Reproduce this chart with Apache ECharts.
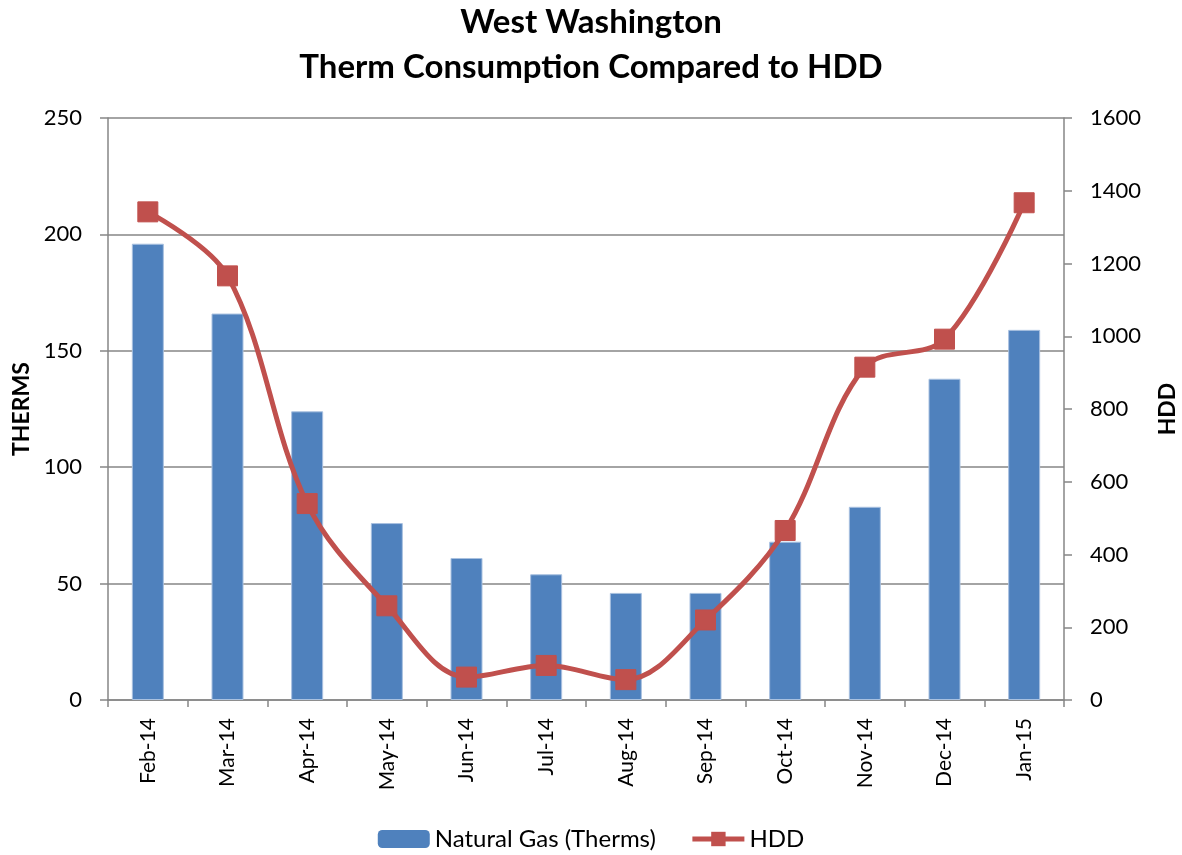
<!DOCTYPE html>
<html>
<head>
<meta charset="utf-8">
<script src="https://cdn.jsdelivr.net/npm/echarts@6/dist/echarts.min.js"></script>
<style>
	html, body { margin: 0; padding: 0; background: #fff; }
	#chart { width: 1182px; height: 855px; }
</style>
</head>
<body>
<div id="chart"></div>
<script>
var months = ['Feb-14', 'Mar-14', 'Apr-14', 'May-14', 'Jun-14', 'Jul-14', 'Aug-14', 'Sep-14', 'Oct-14', 'Nov-14', 'Dec-14', 'Jan-15'];
// therms per month (left axis)
var therms = [196, 166, 124, 76, 61, 54, 46, 46, 68, 83, 138, 159];
// heating degree days (right axis)
var hdd = [1342, 1166, 540, 259, 63, 95, 56, 220, 466, 915, 992, 1367];

var chart = echarts.init(document.getElementById('chart'));
var font = 'Lato';
var gridColor = '#868686';
var barColor = '#4F81BD', lineColor = '#C0504D';

var option = {
	animation: false,
	textStyle: { fontFamily: font },
	title: {
		text: 'West Washington\nTherm Consumption Compared to HDD',
		left: 'center',
		top: -5,
		textStyle: {
			fontFamily: font,
			fontSize: 33,
			fontWeight: 'bold',
			color: '#000',
			lineHeight: 45
		}
	},
	legend: {
		bottom: -1,
		left: 'center',
		itemWidth: 52,
		itemHeight: 18,
		itemGap: 34,
		textStyle: { fontFamily: font, fontSize: 24, color: '#000' },
		data: [
			{ name: 'Natural Gas (Therms)', itemStyle: { borderWidth: 0 } },
			{ name: 'HDD', lineStyle: { width: 5, color: lineColor } }
		]
	},
	grid: {
		left: 108,
		right: 118,
		top: 118,
		bottom: 155,
		outerBoundsMode: 'none'
	},
	xAxis: {
		type: 'category',
		data: months,
		boundaryGap: true,
		axisLine: { lineStyle: { color: gridColor, width: 1.5 } },
		axisTick: { show: true, length: 7, lineStyle: { color: gridColor, width: 1.5 } },
		axisLabel: { rotate: 90, fontSize: 21, color: '#000', margin: 18, fontFamily: font }
	},
	yAxis: [{
		type: 'value',
		min: 0,
		max: 250,
		interval: 50,
		name: 'THERMS',
		nameLocation: 'middle',
		nameGap: 75,
		nameRotate: 90,
		nameTextStyle: { fontSize: 23, fontWeight: 'bold', color: '#000', fontFamily: font },
		axisLine: { show: true, lineStyle: { color: gridColor, width: 1.5 } },
		axisTick: { show: true, length: 8, lineStyle: { color: gridColor, width: 1.5 } },
		axisLabel: { fontSize: 22, color: '#000', margin: 26, fontFamily: font },
		splitLine: { lineStyle: { color: gridColor, width: 1.5 } }
	}, {
		type: 'value',
		min: 0,
		max: 1600,
		interval: 200,
		name: 'HDD',
		nameLocation: 'middle',
		nameGap: 92,
		nameRotate: 90,
		nameTextStyle: { fontSize: 23, fontWeight: 'bold', color: '#000', fontFamily: font },
		axisLine: { show: true, lineStyle: { color: gridColor, width: 1.5 } },
		axisTick: { show: true, length: 8, lineStyle: { color: gridColor, width: 1.5 } },
		axisLabel: {
			fontSize: 22, color: '#000', margin: 26, fontFamily: font,
			formatter: function(v) { return String(v); }
		},
		splitLine: { show: false }
	}],
	series: [{
		name: 'Natural Gas (Therms)',
		type: 'bar',
		yAxisIndex: 0,
		data: therms,
		barWidth: 32,
		itemStyle: { color: barColor, borderColor: '#A9C1E0', borderWidth: 1 }
	}, {
		name: 'HDD',
		type: 'line',
		yAxisIndex: 1,
		data: hdd,
		smooth: 0.35,
		symbol: 'rect',
		symbolSize: 20,
		lineStyle: { color: lineColor, width: 5 },
		itemStyle: { color: lineColor, borderColor: lineColor },
		z: 3
	}]
};

chart.setOption(option);
</script>
</body>
</html>
